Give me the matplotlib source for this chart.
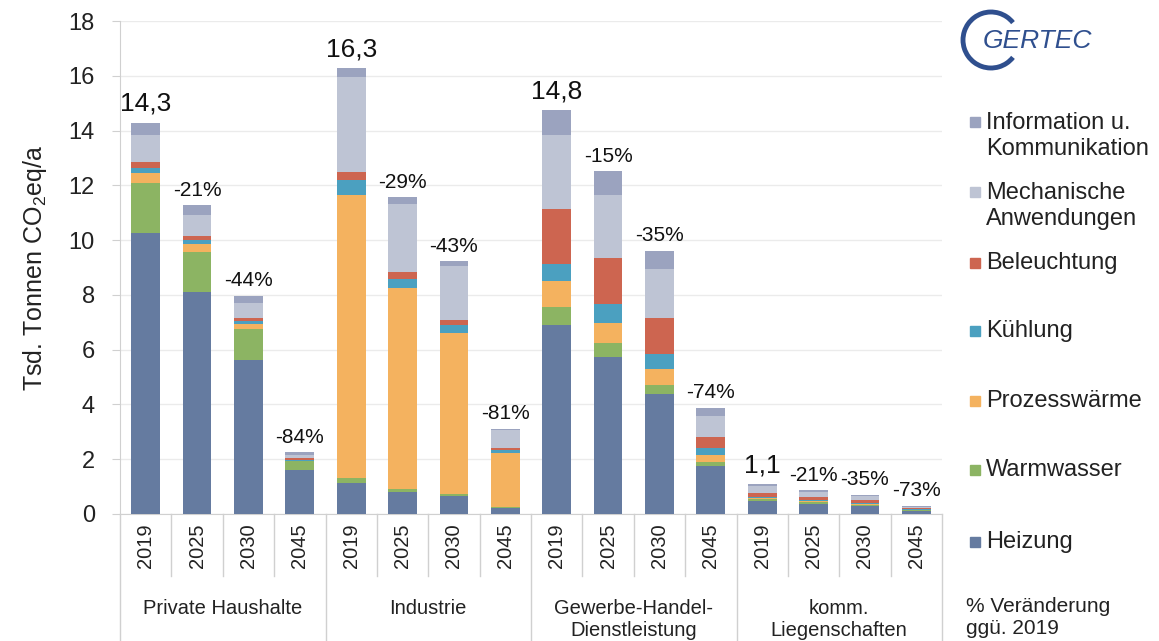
import matplotlib.pyplot as plt
import matplotlib.patches as mpatches
import matplotlib.transforms as mtransforms
import numpy as np

plt.rcParams['font.family'] = ['Liberation Sans', 'DejaVu Sans']
plt.rcParams['mathtext.default'] = 'regular'

# --- data (Tsd. t CO2eq/a) ---
sectors = ['Private Haushalte', 'Industrie', 'Gewerbe-Handel-\nDienstleistung', 'komm.\nLiegenschaften']
years = ['2019', '2025', '2030', '2045']

heizung = [10.27, 8.09, 5.63, 1.60, 1.14, 0.79, 0.66, 0.22, 6.90, 5.74, 4.37, 1.76, 0.48, 0.38, 0.30, 0.12]
warmwasser = [1.81, 1.48, 1.12, 0.32, 0.17, 0.12, 0.08, 0.02, 0.64, 0.49, 0.34, 0.15, 0.05, 0.04, 0.03, 0.01]
prozesswaerme = [0.37, 0.28, 0.17, 0.03, 10.34, 7.34, 5.88, 2.00, 0.96, 0.75, 0.57, 0.23, 0.06, 0.05, 0.04, 0.02]
kuehlung = [0.19, 0.15, 0.12, 0.03, 0.53, 0.34, 0.27, 0.10, 0.61, 0.67, 0.56, 0.28, 0.04, 0.03, 0.03, 0.02]
beleuchtung = [0.20, 0.15, 0.12, 0.05, 0.29, 0.24, 0.19, 0.06, 2.01, 1.69, 1.30, 0.40, 0.12, 0.11, 0.11, 0.04]
mechanik = [1.00, 0.75, 0.54, 0.13, 3.47, 2.50, 1.97, 0.67, 2.72, 2.31, 1.79, 0.76, 0.27, 0.20, 0.15, 0.06]
info = [0.45, 0.37, 0.27, 0.09, 0.33, 0.23, 0.17, 0.05, 0.90, 0.86, 0.68, 0.30, 0.07, 0.06, 0.05, 0.03]

top_labels = ['14,3', '-21%', '-44%', '-84%', '16,3', '-29%', '-43%', '-81%',
              '14,8', '-15%', '-35%', '-74%', '1,1', '-21%', '-35%', '-73%']

series = [
    ('Heizung', heizung, '#657ba0'),
    ('Warmwasser', warmwasser, '#8cb463'),
    ('Prozesswärme', prozesswaerme, '#f4b25f'),
    ('Kühlung', kuehlung, '#4ba0c0'),
    ('Beleuchtung', beleuchtung, '#cd6550'),
    ('Mechanische\nAnwendungen', mechanik, '#bec4d4'),
    ('Information u.\nKommunikation', info, '#9ba3bf'),
]

fig = plt.figure(figsize=(11.59, 6.41), dpi=100)
ax = fig.add_axes([120 / 1159, 127 / 641, 822 / 1159, 493 / 641])

x = np.arange(len(heizung))
bottom = np.zeros(len(x))
for name, vals, col in series:
    ax.bar(x, vals, 0.56, bottom=bottom, color=col, zorder=3)
    bottom += np.array(vals)

# labels above bars
for i, lab in enumerate(top_labels):
    big = i % 4 == 0
    ax.annotate(lab, (x[i], bottom[i]), xytext=(0, 5 if big else 4), textcoords='offset points',
                ha='center', va='bottom', fontsize=19 if big else 15, color='#111111')

ax.set_xlim(-0.5, len(x) - 0.5)
ax.set_ylim(0, 18)
ax.set_yticks(range(0, 19, 2))
ax.tick_params(axis='y', labelsize=17, length=6, color='#d0d0d0', pad=12, labelcolor='#222222')
ax.yaxis.grid(True, color='#ebebeb', lw=1, zorder=0)
ax.set_ylabel(r'Tsd. Tonnen CO$_2$eq/a', fontsize=18, labelpad=14, color='#222222')

ax.set_xticks(x)
ax.set_xticklabels(years * 4, rotation=90, fontsize=14.5, color='#222222')
ax.tick_params(axis='x', length=0, pad=7)

for s in ['top', 'right']:
    ax.spines[s].set_visible(False)
ax.spines['left'].set_color('#d0d0d0')
ax.spines['bottom'].set_color('#d0d0d0')

# category separators below axis
trans = mtransforms.blended_transform_factory(ax.transData, ax.transAxes)
for k in range(len(x) + 1):
    xb = k - 0.5
    y_end = -0.26 if k % 4 == 0 else -0.125
    ax.plot([xb, xb], [0, y_end], color='#d0d0d0', lw=1, transform=trans, clip_on=False)

for g, name in enumerate(sectors):
    ax.text(g * 4 + 1.5, -0.172, name, transform=trans, ha='center', va='top',
            fontsize=14.5, color='#222222', linespacing=1.2)

# legend on the right
leg_y = [136, 206, 263, 331, 401, 470, 542]
for (name, vals, col), yp in zip(series[::-1], leg_y):
    fig.patches.append(mpatches.Rectangle((970 / 1159, 1 - (yp - 9 if '\n' in name else yp + 5) / 641),
                                          10 / 1159, 10 / 641, transform=fig.transFigure,
                                          color=col))
    fig.text(986 / 1159, 1 - yp / 641, name, ha='left', va='center', fontsize=17,
             color='#222222', linespacing=1.2)
fig.text(966 / 1159, 1 - 617 / 641, '% Veränderung\nggü. 2019', ha='left', va='center',
         fontsize=15, color='#222222', linespacing=1.2)

# logo
fig.patches.append(mpatches.Arc((991 / 1159, 1 - 40 / 641), 56 / 1159, 56 / 641, theta1=55, theta2=305,
                                transform=fig.transFigure, color='#2f4f8e', lw=3.5))
fig.text(983 / 1159, 1 - 41 / 641, 'GERTEC', ha='left', va='center', fontsize=19,
         family=['Liberation Sans Narrow', 'Liberation Sans'], style='italic', color='#2f4f8e')

fig.savefig('out.png', dpi=100)
